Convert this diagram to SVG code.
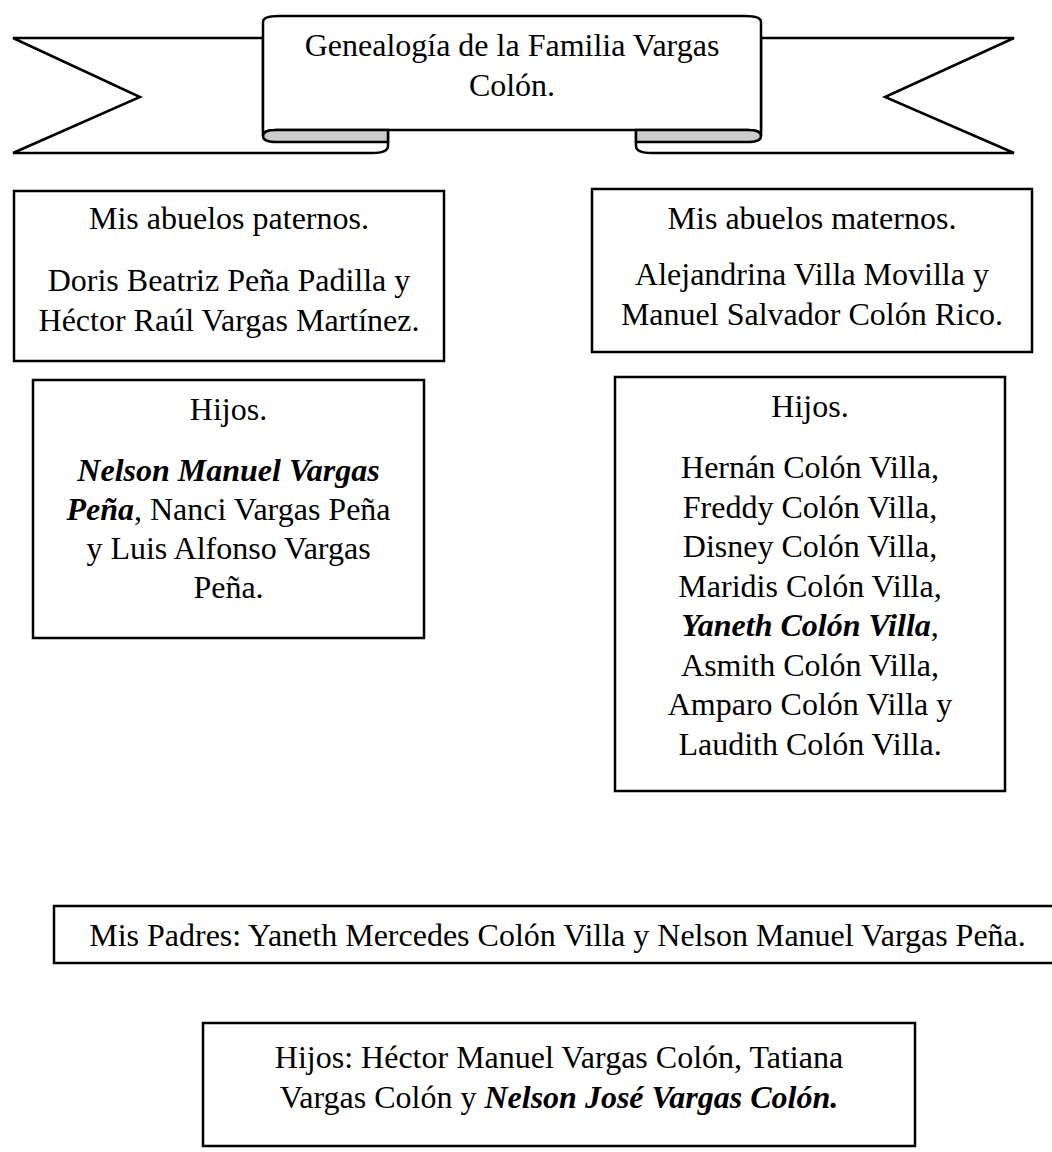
<svg xmlns="http://www.w3.org/2000/svg" width="1052" height="1152" viewBox="0 0 1052 1152">
  <style>
    .bg { fill: #ffffff; }
    .box { fill: #ffffff; stroke: #000000; stroke-width: 2.5; }
    .rib { fill: #ffffff; stroke: #000000; stroke-width: 2.5; stroke-linejoin: miter; }
    .fold { fill: #cccccc; stroke: #000000; stroke-width: 2.5; }
    .t { font-family: "Liberation Serif", "Times New Roman", serif; font-size: 32px; fill: #000000; text-anchor: middle; }
    .bi { font-weight: bold; font-style: italic; }
  </style>
  <rect class="bg" x="0" y="0" width="1052" height="1152"/>

  <g id="banner">
    <path class="rib" d="M263,38 H13 L140,97 L13,153 H372 Q388,153 388,146 V130 H263 Z"/>
    <path class="rib" d="M761,38 H1014 L885,97 L1014,153 H652 Q636,153 636,146 V130 H761 Z"/>
    <path class="rib" d="M263,136 V22 Q263,16 279,16 H745 Q761,16 761,22 V136 Q761,130 748,130 H276 Q263,130 263,136 Z"/>
    <path class="fold" d="M388,130 H276 Q263,130 263,136 Q263,142 276,142 H388 Z"/>
    <path class="fold" d="M636,130 H748 Q761,130 761,136 Q761,142 748,142 H636 Z"/>
    <text class="t" x="512" y="56">Genealogía de la Familia Vargas</text>
    <text class="t" x="512" y="96">Colón.</text>
  </g>

  <g id="abuelos-paternos">
    <rect class="box" x="14" y="191" width="430" height="170"/>
    <text class="t" x="229" y="229">Mis abuelos paternos.</text>
    <text class="t" x="229" y="291">Doris Beatriz Peña Padilla y</text>
    <text class="t" x="229" y="331">Héctor Raúl Vargas Martínez.</text>
  </g>

  <g id="hijos-paternos">
    <rect class="box" x="33" y="380" width="391" height="258"/>
    <text class="t" x="228.5" y="420">Hijos.</text>
    <text class="t" x="228.5" y="481"><tspan class="bi">Nelson Manuel Vargas</tspan></text>
    <text class="t" x="228.5" y="520"><tspan class="bi">Peña</tspan>, Nanci Vargas Peña</text>
    <text class="t" x="228.5" y="559">y Luis Alfonso Vargas</text>
    <text class="t" x="228.5" y="598">Peña.</text>
  </g>

  <g id="abuelos-maternos">
    <rect class="box" x="592" y="189" width="440" height="163"/>
    <text class="t" x="812" y="229">Mis abuelos maternos.</text>
    <text class="t" x="812" y="285">Alejandrina Villa Movilla y</text>
    <text class="t" x="812" y="325">Manuel Salvador Colón Rico.</text>
  </g>

  <g id="hijos-maternos">
    <rect class="box" x="615" y="377" width="390" height="414"/>
    <text class="t" x="810" y="417">Hijos.</text>
    <text class="t" x="810" y="478">Hernán Colón Villa,</text>
    <text class="t" x="810" y="518">Freddy Colón Villa,</text>
    <text class="t" x="810" y="557">Disney Colón Villa,</text>
    <text class="t" x="810" y="597">Maridis Colón Villa,</text>
    <text class="t" x="810" y="636"><tspan class="bi">Yaneth Colón Villa</tspan>,</text>
    <text class="t" x="810" y="676">Asmith Colón Villa,</text>
    <text class="t" x="810" y="715">Amparo Colón Villa y</text>
    <text class="t" x="810" y="755">Laudith Colón Villa.</text>
  </g>

  <g id="padres">
    <rect class="box" x="54" y="906" width="1007" height="57"/>
    <text class="t" x="557.5" y="946">Mis Padres: Yaneth Mercedes Colón Villa y Nelson Manuel Vargas Peña.</text>
  </g>

  <g id="hijos-padres">
    <rect class="box" x="203" y="1023" width="712" height="123"/>
    <text class="t" x="559" y="1068">Hijos: Héctor Manuel Vargas Colón, Tatiana</text>
    <text class="t" x="559" y="1108">Vargas Colón y <tspan class="bi">Nelson José Vargas Colón.</tspan></text>
  </g>

  <g id="connectors"/>
</svg>
